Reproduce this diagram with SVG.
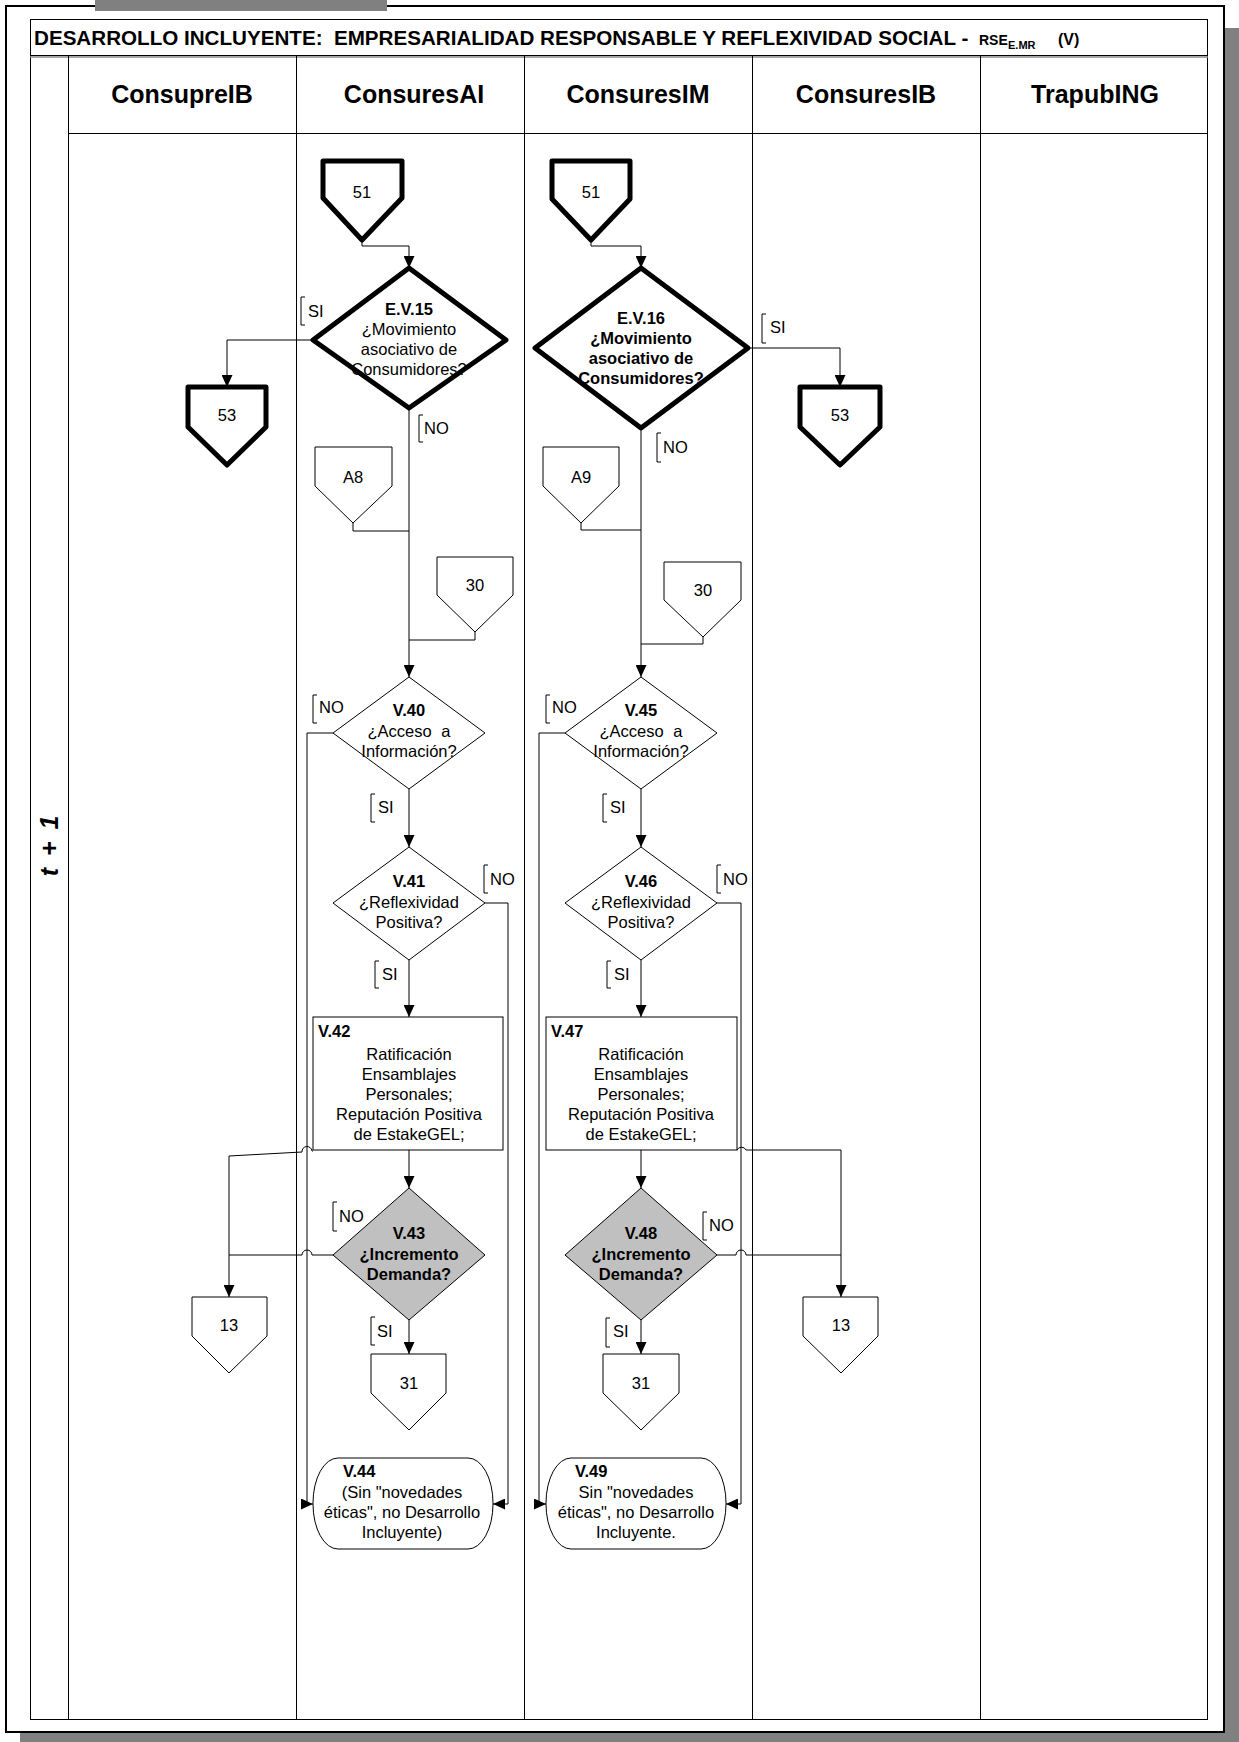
<svg xmlns="http://www.w3.org/2000/svg" width="1239" height="1742" viewBox="0 0 1239 1742">
<style>
text{font-family:"Liberation Sans",Arial,sans-serif;fill:#000}
.t{font-size:16.5px}
.b{font-weight:bold}
.c{text-anchor:middle}
.hdr{font-size:25px;font-weight:bold;text-anchor:middle}
.ln{fill:none;stroke:#000;stroke-width:1}
.thick{fill:#fff;stroke:#000;stroke-width:5;stroke-linejoin:round}
.thin{fill:#fff;stroke:#000;stroke-width:1}
.gray{fill:#c0c0c0;stroke:#000;stroke-width:1}
.con{fill:none;stroke:#000;stroke-width:1}
.br{fill:none;stroke:#000;stroke-width:1}
</style>
<defs>
<marker id="arr" markerWidth="12" markerHeight="11" refX="12" refY="5.5" orient="auto" markerUnits="userSpaceOnUse">
<path d="M0,0 L12,5.5 L0,11 z" fill="#000"/>
</marker>
</defs>
<rect width="1239" height="1742" fill="#fff"/>
<!-- page shadow and frame -->
<rect x="20" y="28" width="1219" height="1714" fill="#808080"/>
<rect x="6" y="6" width="1218" height="1726" fill="#fff" stroke="#000" stroke-width="2"/>
<rect x="95" y="0" width="292" height="11" fill="#808080"/>
<!-- table -->
<g id="table">
<rect x="30.5" y="19.5" width="1177" height="1700" class="ln"/>
<line x1="30" y1="55.5" x2="1208" y2="55.5" stroke="#000" stroke-width="1"/>
<line x1="30" y1="57" x2="1208" y2="57" stroke="#888" stroke-width="1.5"/>
<line x1="68" y1="133.5" x2="1208" y2="133.5" class="ln"/>
<line x1="68.5" y1="56" x2="68.5" y2="1720" class="ln"/>
<line x1="296.5" y1="56" x2="296.5" y2="1720" class="ln"/>
<line x1="524.5" y1="56" x2="524.5" y2="1720" class="ln"/>
<line x1="752.5" y1="56" x2="752.5" y2="1720" class="ln"/>
<line x1="980.5" y1="56" x2="980.5" y2="1720" class="ln"/>
<text x="34" y="45" font-size="20" font-weight="bold" textLength="940" lengthAdjust="spacingAndGlyphs" style="white-space:pre">DESARROLLO INCLUYENTE:  EMPRESARIALIDAD RESPONSABLE Y REFLEXIVIDAD SOCIAL - </text>
<text x="979" y="45" font-size="14" font-weight="bold">RSE</text>
<text x="1008" y="49" font-size="11" font-weight="bold">E.MR</text>
<text x="1058" y="45" font-size="16" font-weight="bold">(V)</text>
<text x="182" y="103" class="hdr">ConsupreIB</text>
<text x="414" y="103" class="hdr">ConsuresAI</text>
<text x="638" y="103" class="hdr">ConsuresIM</text>
<text x="866" y="103" class="hdr">ConsuresIB</text>
<text x="1095" y="103" class="hdr">TrapubING</text>
<text transform="translate(58,846) rotate(-90)" font-size="25" font-weight="bold" font-style="italic" text-anchor="middle" word-spacing="5">t + 1</text>
</g>
<!-- connectors -->
<g id="connectors">
<path class="con" d="M362,240 V246 H409 V268" marker-end="url(#arr)"/>
<path class="con" d="M591,240 V246 H641 V268" marker-end="url(#arr)"/>
<path class="con" d="M313,340 H227 V387" marker-end="url(#arr)"/>
<path class="con" d="M748,348 H840 V387" marker-end="url(#arr)"/>
<path class="con" d="M409,408 V677" marker-end="url(#arr)"/>
<path class="con" d="M353,523 V531 H409"/>
<path class="con" d="M475,632 V640 H409"/>
<path class="con" d="M641,428 V677" marker-end="url(#arr)"/>
<path class="con" d="M581,523 V530 H641"/>
<path class="con" d="M703,637 V644 H641"/>
<path class="con" d="M333,733 H307 V1504 H313" marker-end="url(#arr)"/>
<path class="con" d="M409,789 V847" marker-end="url(#arr)"/>
<path class="con" d="M485,903 H508 V1504 H493" marker-end="url(#arr)"/>
<path class="con" d="M409,960 V1017" marker-end="url(#arr)"/>
<path class="con" d="M409,1150 V1188" marker-end="url(#arr)"/>
<path class="con" d="M313,1151 H312 A5,5 0 0 0 302,1152 L229,1156 V1297" marker-end="url(#arr)"/>
<path class="con" d="M333,1255 H312 A5,5 0 0 0 302,1255 H229"/>
<path class="con" d="M409,1320 V1354" marker-end="url(#arr)"/>
<path class="con" d="M565,733 H539 V1504 H546" marker-end="url(#arr)"/>
<path class="con" d="M641,789 V847" marker-end="url(#arr)"/>
<path class="con" d="M717,903 H741 V1504 H726" marker-end="url(#arr)"/>
<path class="con" d="M641,960 V1017" marker-end="url(#arr)"/>
<path class="con" d="M641,1150 V1188" marker-end="url(#arr)"/>
<path class="con" d="M737,1150 A5,5 0 0 1 746,1150 H841 V1297" marker-end="url(#arr)"/>
<path class="con" d="M717,1255 H736 A5,5 0 0 1 746,1255 H841"/>
<path class="con" d="M641,1320 V1354" marker-end="url(#arr)"/>
</g>
<!-- edge labels -->
<g id="labels">
<path class="br" d="M305,297 H301 V325 H305"/><text class="t" x="308" y="317">SI</text>
<path class="br" d="M423,415 H419 V442 H423"/><text class="t" x="424" y="434">NO</text>
<path class="br" d="M766,314 H762 V343 H766"/><text class="t" x="770" y="333">SI</text>
<path class="br" d="M661,433 H657 V462 H661"/><text class="t" x="663" y="453">NO</text>
<path class="br" d="M317,695 H313 V723 H317"/><text class="t" x="319" y="713">NO</text>
<path class="br" d="M375,794 H371 V822 H375"/><text class="t" x="378" y="813">SI</text>
<path class="br" d="M488,865 H484 V893 H488"/><text class="t" x="490" y="885">NO</text>
<path class="br" d="M379,961 H375 V988 H379"/><text class="t" x="382" y="980">SI</text>
<path class="br" d="M337,1202 H333 V1231 H337"/><text class="t" x="339" y="1222">NO</text>
<path class="br" d="M375,1317 H371 V1345 H375"/><text class="t" x="377" y="1337">SI</text>
<path class="br" d="M550,695 H546 V723 H550"/><text class="t" x="552" y="713">NO</text>
<path class="br" d="M607,794 H603 V822 H607"/><text class="t" x="610" y="813">SI</text>
<path class="br" d="M721,865 H717 V893 H721"/><text class="t" x="723" y="885">NO</text>
<path class="br" d="M611,961 H607 V988 H611"/><text class="t" x="614" y="980">SI</text>
<path class="br" d="M707,1212 H703 V1240 H707"/><text class="t" x="709" y="1231">NO</text>
<path class="br" d="M610,1318 H606 V1347 H610"/><text class="t" x="613" y="1337">SI</text>
</g>
<!-- nodes -->
<g id="n51a"><polygon class="thick" points="323,161 402,161 402,198 362,240 323,198"/><text class="t c" x="362" y="198">51</text></g>
<g id="n51b"><polygon class="thick" points="552,161 630,161 630,199 591,240 552,199"/><text class="t c" x="591" y="198">51</text></g>
<g id="n53a"><polygon class="thick" points="188,387 266,387 266,427 227,465 188,427"/><text class="t c" x="227" y="421">53</text></g>
<g id="n53b"><polygon class="thick" points="800,387 880,387 880,427 840,465 800,427"/><text class="t c" x="840" y="421">53</text></g>
<g id="EV15"><polygon class="thick" points="409,268 506,340 409,408 313,340"/>
<text class="t c" x="409" y="315"><tspan class="b">E.V.15</tspan><tspan x="409" y="335">¿Movimiento</tspan><tspan x="409" y="355">asociativo de</tspan><tspan x="409" y="375">Consumidores?</tspan></text></g>
<g id="EV16"><polygon class="thick" points="641,268 748,348 641,428 535,348"/>
<text class="t c b" x="641" y="324">E.V.16<tspan x="641" y="344">¿Movimiento</tspan><tspan x="641" y="364">asociativo de</tspan><tspan x="641" y="384">Consumidores?</tspan></text></g>
<g id="A8"><polygon class="thin" points="315,447 392,447 392,486 353,523 315,486"/><text class="t c" x="353" y="483">A8</text></g>
<g id="n30a"><polygon class="thin" points="437,557 513,557 513,595 475,632 437,595"/><text class="t c" x="475" y="591">30</text></g>
<g id="A9"><polygon class="thin" points="543,447 619,447 619,486 581,523 543,486"/><text class="t c" x="581" y="483">A9</text></g>
<g id="n30b"><polygon class="thin" points="664,562 741,562 741,600 703,637 664,600"/><text class="t c" x="703" y="596">30</text></g>
<g id="V40"><polygon class="thin" points="409,677 485,733 409,789 333,733"/>
<text class="t c" x="409" y="716"><tspan class="b">V.40</tspan><tspan x="409" y="737" word-spacing="5">¿Acceso a</tspan><tspan x="409" y="757">Información?</tspan></text></g>
<g id="V41"><polygon class="thin" points="409,847 485,903 409,960 333,903"/>
<text class="t c" x="409" y="887"><tspan class="b">V.41</tspan><tspan x="409" y="908">¿Reflexividad</tspan><tspan x="409" y="928">Positiva?</tspan></text></g>
<g id="V42"><rect class="thin" x="313" y="1017" width="190" height="133"/>
<text class="t b" x="318" y="1037">V.42</text>
<text class="t c" x="409" y="1060">Ratificación<tspan x="409" y="1080">Ensamblajes</tspan><tspan x="409" y="1100">Personales;</tspan><tspan x="409" y="1120">Reputación Positiva</tspan><tspan x="409" y="1140">de EstakeGEL;</tspan></text></g>
<g id="V43"><polygon class="gray" points="409,1188 485,1255 409,1320 333,1255"/>
<text class="t c b" x="409" y="1239">V.43<tspan x="409" y="1260">¿Incremento</tspan><tspan x="409" y="1280">Demanda?</tspan></text></g>
<g id="n13a"><polygon class="thin" points="192,1297 267,1297 267,1336 229,1373 192,1336"/><text class="t c" x="229" y="1331">13</text></g>
<g id="n31a"><polygon class="thin" points="371,1354 446,1354 446,1393 409,1430 371,1393"/><text class="t c" x="409" y="1389">31</text></g>
<g id="V44"><rect class="thin" x="313" y="1458" width="180" height="91" rx="25" ry="45"/>
<text class="t b" x="343" y="1477">V.44</text>
<text class="t c" x="402" y="1498">(Sin "novedades<tspan x="402" y="1518">éticas", no Desarrollo</tspan><tspan x="402" y="1538">Incluyente)</tspan></text></g>
<g id="V45"><polygon class="thin" points="641,677 717,733 641,789 565,733"/>
<text class="t c" x="641" y="716"><tspan class="b">V.45</tspan><tspan x="641" y="737" word-spacing="5">¿Acceso a</tspan><tspan x="641" y="757">Información?</tspan></text></g>
<g id="V46"><polygon class="thin" points="641,847 717,903 641,960 565,903"/>
<text class="t c" x="641" y="887"><tspan class="b">V.46</tspan><tspan x="641" y="908">¿Reflexividad</tspan><tspan x="641" y="928">Positiva?</tspan></text></g>
<g id="V47"><rect class="thin" x="546" y="1017" width="191" height="133"/>
<text class="t b" x="551" y="1037">V.47</text>
<text class="t c" x="641" y="1060">Ratificación<tspan x="641" y="1080">Ensamblajes</tspan><tspan x="641" y="1100">Personales;</tspan><tspan x="641" y="1120">Reputación Positiva</tspan><tspan x="641" y="1140">de EstakeGEL;</tspan></text></g>
<g id="V48"><polygon class="gray" points="641,1188 717,1255 641,1320 565,1255"/>
<text class="t c b" x="641" y="1239">V.48<tspan x="641" y="1260">¿Incremento</tspan><tspan x="641" y="1280">Demanda?</tspan></text></g>
<g id="n13b"><polygon class="thin" points="803,1297 878,1297 878,1336 841,1373 803,1336"/><text class="t c" x="841" y="1331">13</text></g>
<g id="n31b"><polygon class="thin" points="603,1354 679,1354 679,1393 641,1430 603,1393"/><text class="t c" x="641" y="1389">31</text></g>
<g id="V49"><rect class="thin" x="546" y="1458" width="180" height="91" rx="25" ry="45"/>
<text class="t b" x="575" y="1477">V.49</text>
<text class="t c" x="636" y="1498">Sin "novedades<tspan x="636" y="1518">éticas", no Desarrollo</tspan><tspan x="636" y="1538">Incluyente.</tspan></text></g>
</svg>
